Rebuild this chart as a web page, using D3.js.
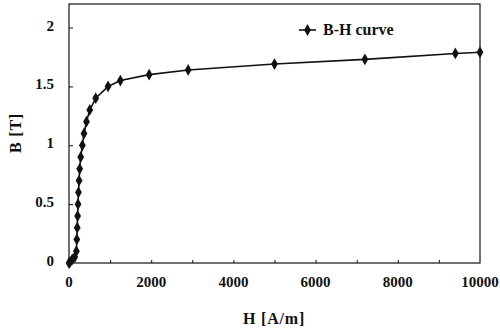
<!DOCTYPE html>
<html lang="en">
<head>
<meta charset="UTF-8">
<title>B-H curve</title>
<style>
  body { margin: 0; background: #fff; }
  text { font-family: "Liberation Serif", "DejaVu Serif", serif; font-weight: bold; fill: #111; }
</style>
</head>
<body>
<svg id="svg" width="500" height="331"></svg>
<script src="https://d3js.org/d3.v7.min.js"></script>
<script>
// H [A/m] and B [T]
const hValues = [0, 30, 80, 140, 180, 190, 200, 210, 220, 230, 245, 260, 285, 325, 365, 425, 505, 650, 950, 1250, 1950, 2900, 5000, 7200, 9400, 10000]
const bValues = [0, 0.01, 0.03, 0.05, 0.1, 0.2, 0.3, 0.4, 0.5, 0.6, 0.7, 0.8, 0.9, 1.0, 1.1, 1.2, 1.3, 1.4, 1.5, 1.55, 1.6, 1.64, 1.69, 1.73, 1.78, 1.79]
const xTickLabels = [0, 2000, 4000, 6000, 8000, 10000]
const yTickLabels = [0, 0.5, 1, 1.5, 2]
const seriesName = 'B-H curve'

const data = hValues.map((h, i) => ({ h: h, b: bValues[i] }))

const plotL = 69, plotR = 480, plotT = 4, plotB = 263

const xScale = d3.scaleLinear().domain([0, 10000]).range([plotL, plotR])
const yScale = d3.scaleLinear().domain([0, 2.2]).range([plotB, plotT])

const svg = d3.select('#svg')

// frame
svg.append('rect')
    .attr('x', plotL).attr('y', plotT)
    .attr('width', plotR - plotL).attr('height', plotB - plotT)
    .attr('fill', 'none').attr('stroke', '#111').attr('stroke-width', 1.2)

// x axis: inside ticks every 1000, labels every 2000
const xAxis = svg.append('g').attr('transform', `translate(0,${plotB})`)
    .call(d3.axisTop(xScale).tickValues(d3.range(1000, 10000, 1000)).tickSize(3).tickFormat(''))
xAxis.select('.domain').remove()
xAxis.selectAll('line').attr('stroke', '#111')

svg.append('g').selectAll('text')
    .data(xTickLabels)
    .enter()
    .append('text')
    .attr('x', d => xScale(d))
    .attr('y', plotB + 24)
    .attr('text-anchor', 'middle')
    .attr('font-size', 15)
    .text(d => d)

// y axis
const yAxis = svg.append('g').attr('transform', `translate(${plotL},0)`)
    .call(d3.axisRight(yScale).tickValues(yTickLabels.slice(1)).tickSize(4).tickFormat(''))
yAxis.select('.domain').remove()
yAxis.selectAll('line').attr('stroke', '#111')

svg.append('g').selectAll('text')
    .data(yTickLabels)
    .enter()
    .append('text')
    .attr('x', 54)
    .attr('y', d => yScale(d) + 3)
    .attr('text-anchor', 'end')
    .attr('font-size', 15)
    .text(d => d)

// axis titles
svg.append('text')
    .attr('x', 274).attr('y', 324)
    .attr('text-anchor', 'middle')
    .attr('font-size', 16)
    .attr('letter-spacing', 0.8)
    .text('H [A/m]')

svg.append('text')
    .attr('transform', 'translate(21,133) rotate(-90)')
    .attr('text-anchor', 'middle')
    .attr('font-size', 16)
    .attr('letter-spacing', 0.8)
    .text('B [T]')

// curve
const line = d3.line().x(d => xScale(d.h)).y(d => yScale(d.b))
svg.append('path')
    .datum(data)
    .attr('d', line)
    .attr('fill', 'none')
    .attr('stroke', '#111')
    .attr('stroke-width', 1.6)

const diamond = d3.symbol().type(d3.symbolDiamond).size(40)
svg.append('g').selectAll('path')
    .data(data)
    .enter()
    .append('path')
    .attr('transform', d => `translate(${xScale(d.h)},${yScale(d.b)})`)
    .attr('d', diamond)
    .attr('fill', '#111')

// legend
const lg = svg.append('g').attr('transform', 'translate(299,30)')
lg.append('line').attr('x1', 0).attr('x2', 17).attr('stroke', '#111').attr('stroke-width', 1.6)
lg.append('path').attr('transform', 'translate(8.5,0)').attr('d', diamond).attr('fill', '#111')
lg.append('text').attr('x', 24).attr('y', 5).attr('font-size', 16).text(seriesName)
</script>
</body>
</html>
